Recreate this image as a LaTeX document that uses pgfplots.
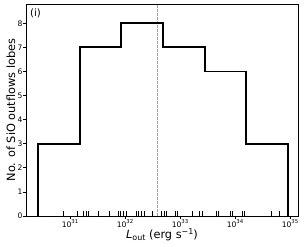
\documentclass[border=0pt]{standalone}
\usepackage{fontspec}
\setmainfont{DejaVu Sans}
\usepackage{pgfplots}
\pgfplotsset{compat=1.18}
\usepackage{pgfplotstable}
\newcommand{\sups}[1]{\raisebox{4.2bp}{\fontsize{5.4}{6}\selectfont #1}}
\pgfplotstableread{
x y
30.42 0.22
30.88 0.22
31.14 0.22
31.24 0.22
31.29 0.22
31.34 0.22
31.52 0.22
31.71 0.22
31.88 0.22
31.92 0.22
31.97 0.22
32.02 0.22
32.20 0.22
32.24 0.22
32.29 0.22
32.36 0.22
32.49 0.22
32.67 0.22
32.71 0.22
32.76 0.22
32.91 0.22
32.95 0.22
33.22 0.22
33.36 0.22
33.41 0.22
33.67 0.22
33.69 0.22
33.92 0.22
33.95 0.22
34.13 0.22
34.17 0.22
34.67 0.22
34.81 0.22
34.96 0.22
}\rugdata
\begin{document}
\begin{tikzpicture}
\begin{axis}[
  scale only axis, width=272bp, height=212bp,
  xmin=30.2, xmax=35.145, ymin=0, ymax=8.8,
  axis line style={black, line width=0.65bp},
  tick style={black, line width=0.65bp},
  tick align=outside, tick pos=left,
  major tick length=2.6bp, minor tick length=1.5bp,
  xtick={31,32,33,34,35},
  xticklabels={10\sups{31},10\sups{32},10\sups{33},10\sups{34},10\sups{35}},
  minor xtick={30.301,30.477,30.602,30.699,30.778,30.845,30.903,30.954,
               31.301,31.477,31.602,31.699,31.778,31.845,31.903,31.954,
               32.301,32.477,32.602,32.699,32.778,32.845,32.903,32.954,
               33.301,33.477,33.602,33.699,33.778,33.845,33.903,33.954,
               34.301,34.477,34.602,34.699,34.778,34.845,34.903,34.954},
  ytick={0,1,...,8},
  /pgf/number format/assume math mode=true,
  ticklabel style={font=\fontsize{7.6}{8.5}\selectfont},
  xticklabel style={anchor=base, inner sep=0pt, yshift=-8.9bp},
  yticklabel style={anchor=east, inner sep=0pt, xshift=-0.8bp},
]
\addplot[gray!75, line width=0.8bp, dash pattern=on 2.8bp off 1.2bp] coordinates {(32.58,0) (32.58,8.8)};
\addplot[black, line width=0.75bp, ycomb, mark=none] table[x=x,y=y]{\rugdata};
\addplot[black, line width=1.8bp, const plot, line join=miter] coordinates {(30.42,0) (30.42,3) (31.177,7) (31.933,8) (32.69,7) (33.447,6) (34.203,3) (34.96,3) (34.96,0)};
\coordinate (SW) at (rel axis cs:0,0);
\coordinate (NE) at (rel axis cs:1,1);
\coordinate (ML) at (rel axis cs:0,0.5);
\coordinate (MB) at (rel axis cs:0.5,0);
\coordinate (TL) at (rel axis cs:0,1);
\end{axis}
\node[anchor=base west, inner sep=0pt, font=\fontsize{10.2}{12}\selectfont] at ([shift={(4bp,-13bp)}]TL) {(i)};
\node[anchor=base, inner sep=0pt, font=\fontsize{11.4}{13}\selectfont] at ([yshift=-22.5bp]MB) {\textit{L}\raisebox{-1.8bp}{\fontsize{8}{9}\selectfont out} (erg s\sups{\fontsize{8}{9}\selectfont −1})};
\node[rotate=90, anchor=base, inner sep=0pt, font=\fontsize{11.4}{13}\selectfont] at ([xshift=-11bp]ML) {No. of SiO outflows lobes};
\pgfresetboundingbox
\path[use as bounding box] ([shift={(-26bp,-31bp)}]SW) rectangle ([shift={(9bp,4bp)}]NE);
\end{tikzpicture}
\end{document}
